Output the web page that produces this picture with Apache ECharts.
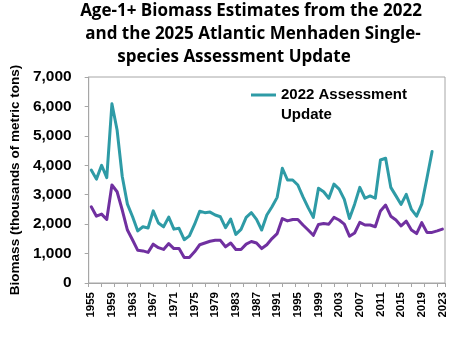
<!DOCTYPE html>
<html>
<head>
<meta charset="utf-8">
<script src="https://cdn.jsdelivr.net/npm/echarts@6/dist/echarts.min.js"></script>
<style>
  html, body { margin: 0; padding: 0; background: #ffffff; }
  #chart { width: 460px; height: 337px; }
</style>
</head>
<body>
<div id="chart"></div>
<script>
// Years on the category axis
const years = [];
for (let y = 1955; y <= 2023; y++) years.push(String(y));

// Age-1+ biomass, thousands of metric tons
const assessment2022 = [
  3840, 3530, 4000, 3580, 6090, 5200, 3620, 2680, 2250, 1770,
  1910, 1870, 2450, 2040, 1910, 2240, 1830, 1860, 1470, 1600,
  1990, 2440, 2390, 2410, 2310, 2250, 1880, 2170, 1650, 1820,
  2230, 2390, 2160, 1800, 2310, 2590, 2910, 3900, 3500, 3500,
  3330, 2930, 2560, 2230, 3220, 3100, 2880, 3360, 3190, 2840,
  2190, 2680, 3250, 2880, 2960, 2880, 4180, 4240, 3250, 2960,
  2670, 3010, 2500, 2270, 2680, 3560, 4470
];
const assessment2025 = [
  2590, 2270, 2340, 2160, 3330, 3100, 2480, 1800, 1460, 1110,
  1090, 1040, 1320, 1200, 1140, 1340, 1170, 1170, 865, 870,
  1060, 1300, 1360, 1420, 1450, 1450, 1230, 1360, 1140, 1140,
  1320, 1410, 1360, 1170, 1300, 1510, 1680, 2190, 2110, 2160,
  2160, 1970, 1800, 1620, 1990, 2020, 2000, 2230, 2140, 2000,
  1590, 1700, 2060, 1970, 1970, 1910, 2450, 2650, 2270, 2140,
  1940, 2100, 1800, 1680, 2050, 1720, 1720, 1770, 1830
];

const titleLines = [
  'Age-1+ Biomass Estimates from the 2022',
  'and the 2025 Atlantic Menhaden Single-',
  'species Assessment Update'
];

const TEAL = '#2e9ba6';
const PURPLE = '#7030a0';
const GRAY = '#a6a6a6';
const FONT = '"Liberation Sans", Arial, sans-serif';
const TITLE_FONT = '"Open Sans", "Liberation Sans", Arial, sans-serif';

const titleCenters = [251, 253, 234];
const titleTops = [3, 26, 49];

const chart = echarts.init(document.getElementById('chart'), null, { renderer: 'canvas' });

chart.setOption({
  animation: false,
  backgroundColor: '#ffffff',
  title: titleLines.map((t, i) => ({
    text: t,
    left: titleCenters[i],
    top: titleTops[i],
    textAlign: 'center',
    padding: 0,
    textStyle: { fontFamily: TITLE_FONT, fontWeight: 'bold', fontSize: 17, color: '#000000' }
  })),
  legend: {
    data: ['2022 Assessment Update'],
    left: 251,
    top: 65,
    padding: 0,
    itemWidth: 25,
    itemHeight: 3,
    icon: 'rect',
    // blank first line keeps the swatch level with the first text line
    formatter: () => ' \n2022 Assessment\nUpdate',
    textStyle: {
      fontFamily: FONT, fontWeight: 'bold', fontSize: 15, color: '#000000',
      lineHeight: 20
    }
  },
  grid: {
    left: 82, right: 15, top: 77, bottom: 54,
    show: true, borderColor: GRAY, borderWidth: 1, backgroundColor: 'transparent'
  },
  xAxis: [
    {
      type: 'category',
      data: years,
      boundaryGap: true,
      axisLine: { show: true, lineStyle: { color: GRAY, width: 1 } },
      axisTick: { show: false },
      axisLabel: {
        interval: 3, rotate: 90, margin: 9,
        fontFamily: FONT, fontWeight: 'bold', fontSize: 11.5, color: '#000000'
      },
      splitLine: { show: false }
    },
    {
      // tick marks along the bottom edge
      type: 'value',
      position: 'bottom',
      min: 0, max: 69, interval: 2.5,
      axisLine: { show: false },
      axisTick: { show: true, length: 4, lineStyle: { color: GRAY, width: 1 } },
      axisLabel: { show: false },
      splitLine: { show: false }
    }
  ],
  yAxis: {
    type: 'value',
    min: 0, max: 7000, interval: 1000,
    name: 'Biomass (thousands of metric tons)',
    nameLocation: 'middle',
    nameGap: 52,
    nameTextStyle: { fontFamily: FONT, fontWeight: 'bold', fontSize: 13.5, color: '#000000' },
    axisLine: { show: true, lineStyle: { color: GRAY, width: 1 } },
    axisTick: { show: true, length: 4, lineStyle: { color: GRAY, width: 1 } },
    axisLabel: {
      margin: 17,
      fontFamily: FONT, fontWeight: 'bold', fontSize: 15.5, color: '#000000',
      formatter: v => v.toLocaleString('en-US')
    },
    splitLine: { show: false }
  },
  series: [
    {
      name: '2022 Assessment Update',
      type: 'line',
      data: assessment2022,
      xAxisIndex: 0,
      showSymbol: false,
      symbol: 'none',
      lineStyle: { color: TEAL, width: 3, join: 'round', cap: 'round' },
      itemStyle: { color: TEAL },
      z: 3
    },
    {
      name: '2025 Assessment Update',
      type: 'line',
      data: assessment2025,
      xAxisIndex: 0,
      showSymbol: false,
      symbol: 'none',
      lineStyle: { color: PURPLE, width: 3, join: 'round', cap: 'round' },
      itemStyle: { color: PURPLE },
      z: 2
    }
  ]
});
</script>
</body>
</html>
